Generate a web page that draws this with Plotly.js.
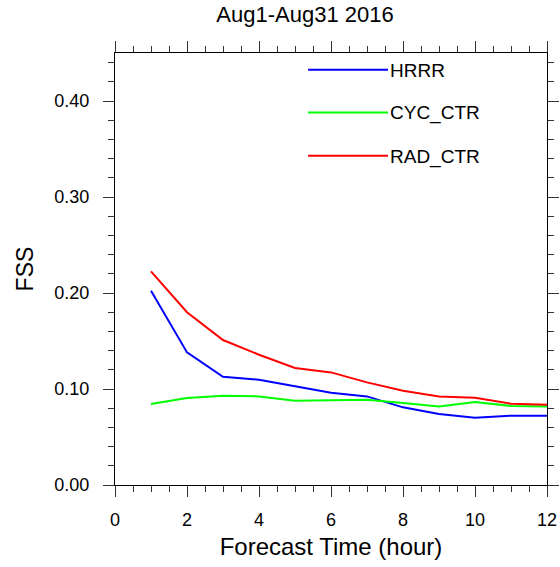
<!DOCTYPE html>
<html>
<head>
<meta charset="utf-8">
<script src="https://cdn.plot.ly/plotly-3.0.1.min.js"></script>
<style>html,body{margin:0;padding:0;background:#fff;}#chart{width:560px;height:567px;}</style>
</head>
<body>
<div id="chart"></div>
<script>
const forecastHours = [1, 2, 3, 4, 5, 6, 7, 8, 9, 10, 11, 12];
const seriesNames = ["HRRR", "CYC_CTR", "RAD_CTR"];
const seriesColors = ["#0000ff", "#00ff00", "#ff0000"];
const hrrr   = [0.2024, 0.1381, 0.1128, 0.1097, 0.1028, 0.0961, 0.0923, 0.0809, 0.0740, 0.0701, 0.0722, 0.0722];
const cycCtr = [0.0844, 0.0906, 0.0930, 0.0923, 0.0878, 0.0882, 0.0889, 0.0854, 0.0819, 0.0865, 0.0823, 0.0819];
const radCtr = [0.2225, 0.1800, 0.1510, 0.1357, 0.1219, 0.1173, 0.1069, 0.0982, 0.0923, 0.0909, 0.0847, 0.0836];
const seriesValues = [hrrr, cycCtr, radCtr];
const titleText = "Aug1-Aug31 2016";
const xTitle = "Forecast Time (hour)";
const yTitle = "FSS";

const FONT = "Liberation Sans, Arial, Helvetica, sans-serif";

const traces = seriesValues.map((vals, i) => ({
  x: forecastHours, y: vals, type: "scatter", mode: "lines",
  name: seriesNames[i], line: {color: seriesColors[i], width: 2},
  showlegend: false, hoverinfo: "skip"
}));

const legY = [0.961, 0.8625, 0.762];
const shapes = seriesNames.map((n, i) => ({
  type: "line", xref: "paper", yref: "paper",
  x0: 0.447, x1: 0.632, y0: legY[i], y1: legY[i],
  line: {color: seriesColors[i], width: 2}
}));
const annotations = seriesNames.map((n, i) => ({
  xref: "paper", yref: "paper", x: 0.632, y: legY[i],
  xanchor: "left", yanchor: "middle", text: n, showarrow: false,
  xshift: 0, yshift: -1,
  font: {family: FONT, size: 19, color: "#000"}
}));

const axisCommon = {
  showgrid: false, zeroline: false, showline: true, linecolor: "#000", linewidth: 1,
  mirror: "ticks", ticks: "outside", ticklen: 11, tickwidth: 1, tickcolor: "#333",
  tickfont: {family: FONT, size: 18, color: "#000"}, fixedrange: true
};

const layout = {
  width: 560, height: 567,
  margin: {l: 115, r: 13, t: 53, b: 82, pad: 0},
  paper_bgcolor: "#fff", plot_bgcolor: "#fff",
  title: {text: titleText, font: {family: FONT, size: 22, color: "#000"},
          xref: "container", x: 305/560, xanchor: "center",
          yref: "container", y: 1 - 14/567, yanchor: "middle"},
  xaxis: Object.assign({}, axisCommon, {
    range: [0, 12], dtick: 2, tick0: 0, ticklabelstandoff: 7,
    minor: {dtick: 0.5, ticks: "outside", ticklen: 6, tickcolor: "#333", showgrid: false},
    title: {text: xTitle, font: {family: FONT, size: 24, color: "#000"}, standoff: 9}
  }),
  yaxis: Object.assign({}, axisCommon, {
    range: [0, 0.45], dtick: 0.1, tick0: 0, tickformat: ".2f", ticklabelstandoff: 10,
    minor: {dtick: 0.02, ticks: "outside", ticklen: 6, tickcolor: "#333", showgrid: false},
    title: {text: yTitle, font: {family: FONT, size: 23, color: "#000"}, standoff: 14}
  }),
  shapes: shapes,
  annotations: annotations,
  showlegend: false
};

Plotly.newPlot("chart", traces, layout, {staticPlot: true, displayModeBar: false});
</script>
</body>
</html>
